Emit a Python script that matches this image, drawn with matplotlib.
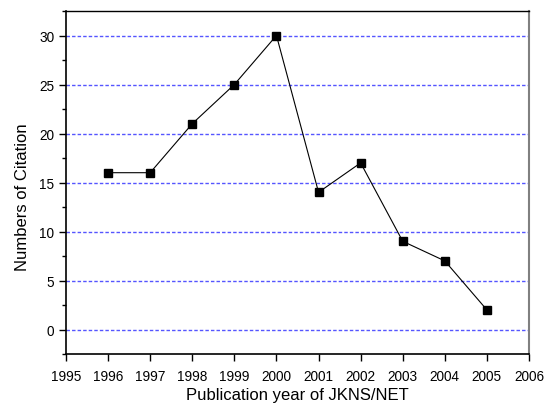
import matplotlib
matplotlib.use("Agg")
import matplotlib.pyplot as plt
from matplotlib.ticker import MultipleLocator

# citations per publication year
years = [1996, 1997, 1998, 1999, 2000, 2001, 2002, 2003, 2004, 2005]
citations = [16, 16, 21, 25, 30, 14, 17, 9, 7, 2]
x_ticks = list(range(1995, 2007))
y_ticks = [0, 5, 10, 15, 20, 25, 30]

plt.rcParams['font.family'] = ['Liberation Sans', 'DejaVu Sans']

fig = plt.figure(figsize=(5.48, 4.06), dpi=100)
ax = fig.add_axes([66/548, 1-355/406, (529-66)/548, (355-12)/406])

for y in y_ticks:
    ax.axhline(y, color='#5555ff', linestyle=(0, (2.5, 1.5)), linewidth=1.0, zorder=1)

ax.plot(years, citations, color='black', linewidth=0.8, marker='s',
        markersize=5.2, markerfacecolor='black', markeredgecolor='black', zorder=3)

ax.set_xlim(1995, 2006)
ax.set_ylim(-2.5, 32.5)
ax.set_xticks(x_ticks)
ax.set_xticklabels([str(t) for t in x_ticks])
ax.set_yticks(y_ticks)
ax.yaxis.set_minor_locator(MultipleLocator(2.5))

ax.tick_params(axis='both', which='major', direction='out', length=5, width=1,
               labelsize=9.8, top=False, right=False)
ax.tick_params(axis='x', which='major', pad=6)
ax.tick_params(axis='y', which='minor', direction='out', length=3, width=1, right=False)

ax.spines['left'].set_linewidth(1.2)
ax.spines['bottom'].set_linewidth(1.2)
ax.spines['top'].set_linewidth(1.0)
ax.spines['right'].set_color('#808080')
ax.spines['right'].set_linewidth(1.5)

ax.set_xlabel('Publication year of JKNS/NET', fontsize=12, labelpad=3)
ax.set_ylabel('Numbers of Citation', fontsize=12)
ax.yaxis.set_label_coords(-0.078, 0.46)

fig.savefig('out.png', dpi=100)
